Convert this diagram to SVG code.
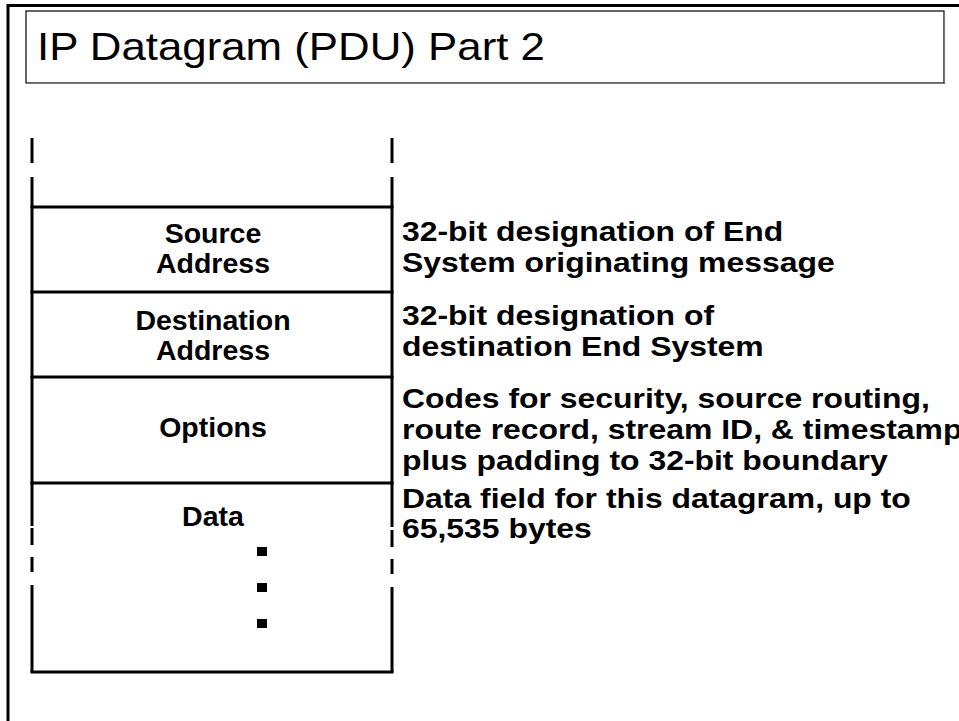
<svg xmlns="http://www.w3.org/2000/svg" width="959" height="721" viewBox="0 0 959 721">
<style>
.frame{stroke:#000;stroke-width:3;fill:none}
.col{stroke:#000;stroke-width:3;fill:none;stroke-linecap:butt}
.lbl{font-family:"Liberation Sans",Arial,sans-serif;font-weight:bold;font-size:28.5px;fill:#000;text-anchor:middle}
.desc{font-family:"Liberation Sans",Arial,sans-serif;font-weight:bold;font-size:28.5px;fill:#000}
.title{font-family:"Liberation Sans",Arial,sans-serif;font-size:39px;fill:#000}
</style>
<rect width="959" height="721" fill="#fff"/>
<g id="frame">
<path class="frame" d="M8,721 V5.5 H959"/>
</g>
<g id="title">
<rect x="26" y="11" width="918" height="72" fill="#fff" stroke="#000" stroke-width="1.2"/>
<path d="M26.5,83.5 H944.5 V11" stroke="#777" stroke-width="1.2" fill="none"/>
<text class="title" x="37" y="60" textLength="508" lengthAdjust="spacingAndGlyphs">IP Datagram (PDU) Part 2</text>
</g>
<g id="connectors">
<path class="col" d="M32,138 V163 M32,177 V207 M392,138 V163 M392,177 V207"/>
<path class="col" d="M30.5,207 H393.5 M30.5,292 H393.5 M30.5,377 H393.5 M30.5,483 H393.5 M30.5,672 H393.5"/>
<path class="col" d="M32,207 V483 M392,207 V483"/>
<path class="col" d="M32,483 V526 M32,528 V545 M32,557 V572 M32,585 V672"/>
<path class="col" d="M392,483 V527 M392,530 V547 M392,559 V574 M392,587 V672"/>
</g>
<g id="source">
<text class="lbl" x="213" y="243">Source</text>
<text class="lbl" x="213" y="273">Address</text>
</g>
<g id="destination">
<text class="lbl" x="213" y="330">Destination</text>
<text class="lbl" x="213" y="360">Address</text>
</g>
<g id="options">
<text class="lbl" x="213" y="437">Options</text>
</g>
<g id="data">
<text class="lbl" x="213" y="526">Data</text>
<rect x="257" y="547" width="10" height="9" fill="#000"/>
<rect x="257" y="583" width="10" height="9" fill="#000"/>
<rect x="257" y="619" width="10" height="9" fill="#000"/>
</g>
<g id="descriptions" transform="translate(402,0) scale(1.12,1)">
<g id="desc-source">
<text class="desc" x="0" y="241">32-bit designation of End</text>
<text class="desc" x="0" y="272">System originating message</text>
</g>
<g id="desc-destination">
<text class="desc" x="0" y="325">32-bit designation of</text>
<text class="desc" x="0" y="356">destination End System</text>
</g>
<g id="desc-options">
<text class="desc" x="0" y="408">Codes for security, source routing,</text>
<text class="desc" x="0" y="439">route record, stream ID, &amp; timestamp</text>
<text class="desc" x="0" y="470">plus padding to 32-bit boundary</text>
</g>
<g id="desc-data">
<text class="desc" x="0" y="508">Data field for this datagram, up to</text>
<text class="desc" x="0" y="538">65,535 bytes</text>
</g>
</g>
</svg>
